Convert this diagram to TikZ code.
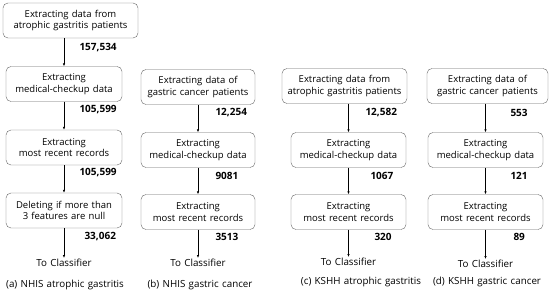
\documentclass[tikz,border=0pt]{standalone}
\usepackage{fontspec}
\setmainfont{Open Sans}[WordSpace=1.3]
\usepackage{tikz}
\usepackage{xcolor}
\usetikzlibrary{arrows.meta}

\begin{document}
\begin{tikzpicture}[x=1pt, y=-1pt,
    box/.style={rectangle, draw=gray!80!black, rounded corners=5pt, minimum height=35pt, align=center, inner sep=1pt, font=\fontsize{9.5}{11.8}\selectfont},
    num/.style={anchor=west, font=\fontsize{10}{12}\selectfont\bfseries},
    tocls/.style={anchor=north, inner sep=1pt, font=\fontsize{9.8}{12}\selectfont},
    caption/.style={font=\fontsize{9.8}{12}\selectfont},
    flow/.style={-{Latex[length=3pt,width=2.5pt]}, semithick}]

    \useasboundingbox (0,0) rectangle (550,295);

    % (a) NHIS atrophic gastritis
    \node[box, minimum width=135pt] (a1) at (70.5,20.5) {Extracting data from\\atrophic gastritis patients};
    \node[box, minimum width=116pt] (a2) at (64,84) {Extracting\\medical-checkup data};
    \node[box, minimum width=116pt] (a3) at (64,147.5) {Extracting\\most recent records};
    \node[box, minimum width=116pt] (a4) at (64,210.5) {Deleting if more than\\3 features are null};
    \node[tocls] (ao) at (64,258) {To Classifier};
    \node[caption] (acap) at (65,285) {(a) NHIS atrophic gastritis};

    \draw[flow] (a2.north |- a1.south) -- (a2);
    \draw[flow] (a2) -- (a3);
    \draw[flow] (a3) -- (a4);
    \draw[flow] (a4) -- (ao);

    \node[num] at (76,48) {157,534};
    \node[num] at (76,110) {105,599};
    \node[num] at (76,173) {105,599};
    \node[num] at (81,237) {33,062};

    % (b) NHIS gastric cancer
    \node[box, minimum width=114pt] (b1) at (198,87) {Extracting data of\\gastric cancer patients};
    \node[box, minimum width=114pt] (b2) at (198,150) {Extracting\\medical-checkup data};
    \node[box, minimum width=114pt] (b3) at (198,212) {Extracting\\most recent records};
    \node[tocls] (bo) at (198,258) {To Classifier};
    \node[caption] (bcap) at (200,285) {(b) NHIS gastric cancer};

    \draw[flow] (b1) -- (b2);
    \draw[flow] (b2) -- (b3);
    \draw[flow] (b3) -- (bo);

    \node[num] at (212,113) {12,254};
    \node[num] at (212,176) {9081};
    \node[num] at (212,237) {3513};

    % (c) KSHH atrophic gastritis
    \node[box, minimum width=125pt] (c1) at (344.5,86) {Extracting data from\\atrophic gastritis patients};
    \node[box, minimum width=115pt] (c2) at (348.5,150) {Extracting\\medical-checkup data};
    \node[box, minimum width=115pt] (c3) at (348.5,212) {Extracting\\most recent records};
    \node[tocls] (co) at (348.5,257) {To Classifier};
    \node[caption] (ccap) at (361,282) {(c) KSHH atrophic gastritis};

    \draw[flow] (c2.north |- c1.south) -- (c2);
    \draw[flow] (c2) -- (c3);
    \draw[flow] (c3) -- (co);

    \node[num] at (362,113) {12,582};
    \node[num] at (367,176) {1067};
    \node[num] at (371,237) {320};

    % (d) KSHH gastric cancer
    \node[box, minimum width=121pt] (d1) at (487.5,86) {Extracting data of\\gastric cancer patients};
    \node[box, minimum width=115pt] (d2) at (485.5,150) {Extracting\\medical-checkup data};
    \node[box, minimum width=115pt] (d3) at (485.5,212) {Extracting\\most recent records};
    \node[tocls] (do) at (485.5,259) {To Classifier};
    \node[caption] (dcap) at (487,282) {(d) KSHH gastric cancer};

    \draw[flow] (d2.north |- d1.south) -- (d2);
    \draw[flow] (d2) -- (d3);
    \draw[flow] (d3) -- (do);

    \node[num] at (507,113) {553};
    \node[num] at (507,176) {121};
    \node[num] at (510,237) {89};
\end{tikzpicture}
\end{document}
